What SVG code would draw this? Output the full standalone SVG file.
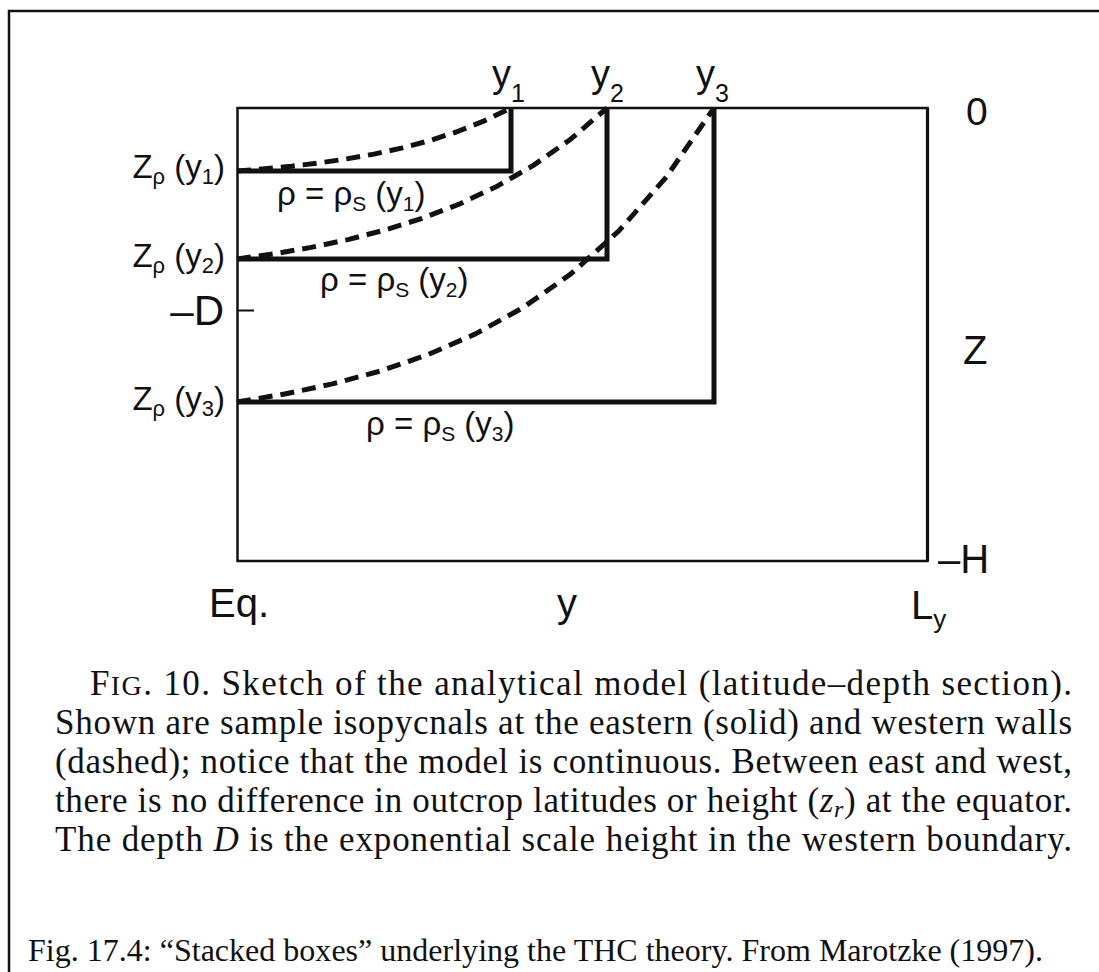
<svg xmlns="http://www.w3.org/2000/svg" width="1099" height="972" viewBox="0 0 1099 972">
<style>
.lab{font-family:"Liberation Sans",Arial,Helvetica,sans-serif;fill:#111}
.cap{font-family:"Liberation Serif","Times New Roman",serif;fill:#111;font-size:35px}
.iso{fill:none;stroke:#111;stroke-width:5;stroke-linejoin:miter}
.west{fill:none;stroke:#111;stroke-width:5;stroke-dasharray:14 8;stroke-linejoin:round}
.thin{fill:none;stroke:#111;stroke-width:2.5}
</style>
<rect width="1099" height="972" fill="#fff"/>
<path class="thin" d="M9 972 V11 H1099"/>
<g id="model-box">
<path class="thin" d="M237.5 108 V561 H927.5 V108 Z"/>
<line x1="927.5" y1="108" x2="927.5" y2="561" stroke="#111" stroke-width="3.2"/>
<line x1="238" y1="310.5" x2="254" y2="310.5" stroke="#111" stroke-width="2"/>
</g>
<g id="connectors">
<path class="iso" d="M237 171 H511 V108"/>
<path class="iso" d="M237 259 H607 V108"/>
<path class="iso" d="M237 402 H714 V108"/>
<path class="west" d="M237 171 L264.4 168.8 L291.8 166.2 L319.2 162.9 L346.6 158.9 L374 154.1 L401.4 148.1 L428.8 140.9 L456.2 132 L483.6 121.2 L511 108"/>
<path class="west" d="M237 259 L274 253.8 L311 247.4 L348 239.6 L385 230 L422 218.4 L459 204.2 L496 186.8 L533 165.6 L570 139.7 L607 108"/>
<path class="west" d="M237 402 L284.7 394 L332.4 383.9 L380.1 371.1 L427.8 354.7 L475.5 333.9 L523.2 307.5 L570.9 273.9 L618.6 231.2 L666.3 177 L714 108"/>
</g>
<g id="top-labels" class="lab">
<text x="492" y="87" font-size="38">y<tspan font-size="25" dy="15">1</tspan></text>
<text x="591" y="87" font-size="38">y<tspan font-size="25" dy="15">2</tspan></text>
<text x="696" y="87" font-size="38">y<tspan font-size="25" dy="15">3</tspan></text>
<text x="966" y="125" font-size="39">0</text>
</g>
<g id="left-labels" class="lab" text-anchor="end">
<text x="225" y="178" font-size="33">Z<tspan font-size="22" dy="6">ρ</tspan><tspan dy="-6"> (y</tspan><tspan font-size="22" dy="6">1</tspan><tspan dy="-6">)</tspan></text>
<text x="225" y="267" font-size="33">Z<tspan font-size="22" dy="6">ρ</tspan><tspan dy="-6"> (y</tspan><tspan font-size="22" dy="6">2</tspan><tspan dy="-6">)</tspan></text>
<text x="224" y="325" font-size="42">–D</text>
<text x="225" y="410" font-size="33">Z<tspan font-size="22" dy="6">ρ</tspan><tspan dy="-6"> (y</tspan><tspan font-size="22" dy="6">3</tspan><tspan dy="-6">)</tspan></text>
</g>
<g id="rho-labels" class="lab" font-size="33">
<text x="277" y="205">ρ = ρ<tspan font-size="21" dy="6">S</tspan><tspan dy="-6"> (y</tspan><tspan font-size="21" dy="6">1</tspan><tspan dy="-6">)</tspan></text>
<text x="320" y="291">ρ = ρ<tspan font-size="21" dy="6">S</tspan><tspan dy="-6"> (y</tspan><tspan font-size="21" dy="6">2</tspan><tspan dy="-6">)</tspan></text>
<text x="366" y="435">ρ = ρ<tspan font-size="21" dy="6">S</tspan><tspan dy="-6"> (y</tspan><tspan font-size="21" dy="6">3</tspan><tspan dy="-6">)</tspan></text>
</g>
<g id="axis-labels" class="lab" font-size="40">
<text x="963" y="364">Z</text>
<text x="938" y="573">–H</text>
<text x="209" y="617">Eq.</text>
<text x="557" y="617">y</text>
<text x="911" y="619">L<tspan font-size="26" dy="9">y</tspan></text>
</g>
<g id="caption" class="cap">
<text x="90" y="695" textLength="982">F<tspan font-size="28">IG</tspan>. 10. Sketch of the analytical model (latitude–depth section).</text>
<text x="55" y="734" textLength="1017">Shown are sample isopycnals at the eastern (solid) and western walls</text>
<text x="55" y="773" textLength="1017">(dashed); notice that the model is continuous. Between east and west,</text>
<text x="55" y="812" textLength="1017">there is no difference in outcrop latitudes or height (<tspan font-style="italic">z</tspan><tspan font-style="italic" font-size="24" dy="5">r</tspan><tspan dy="-5">) at the equator.</tspan></text>
<text x="55" y="851" textLength="1017">The depth <tspan font-style="italic">D</tspan> is the exponential scale height in the western boundary.</text>
<text x="28" y="961" font-size="32" textLength="1015">Fig. 17.4: “Stacked boxes” underlying the THC theory. From Marotzke (1997).</text>
</g>
</svg>
